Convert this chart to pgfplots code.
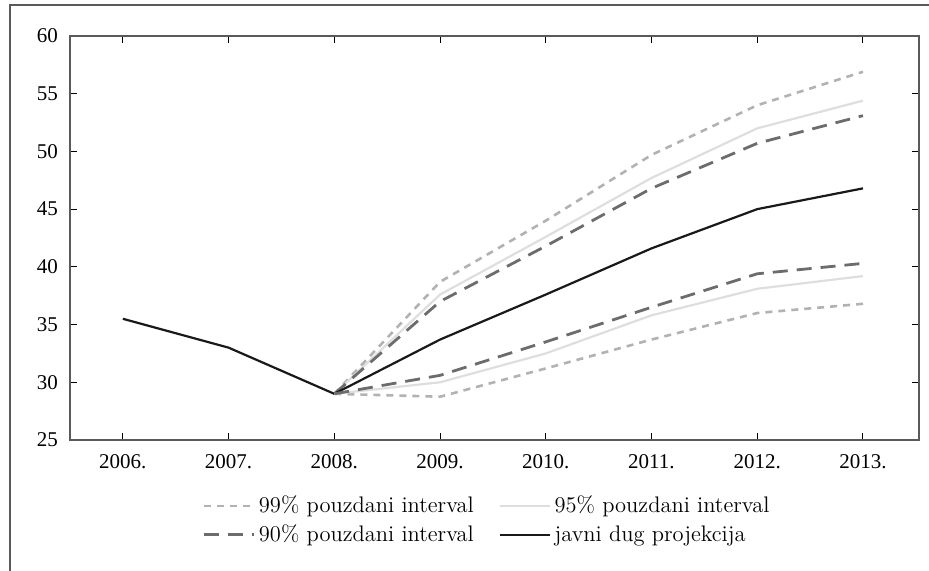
\documentclass[border=0pt]{standalone}
\usepackage{pgfplots}
\pgfplotsset{compat=1.18}
\usepackage{fontspec}
\newfontfamily\timesf{Liberation Serif}
\definecolor{c99}{RGB}{178,178,178}
\definecolor{c95}{RGB}{222,222,222}
\definecolor{c90}{RGB}{108,108,108}
\definecolor{cax}{RGB}{90,90,90}
\begin{document}
\begin{tikzpicture}
\begin{axis}[
  at={(0,0)}, anchor=south west,
  scale only axis, width=424.5pt, height=202pt,
  xmin=2005.5, xmax=2013.53, ymin=25, ymax=60,
  xtick={2006,...,2013},
  xticklabels={2006.,2007.,2008.,2009.,2010.,2011.,2012.,2013.},
  ytick={25,30,...,60},
  tick align=inside, major tick length=3.5pt,
  tick style={black, line width=0.5pt},
  axis line style={cax, line width=0.6pt},
  ticklabel style={font=\timesf\fontsize{10.5}{12}\selectfont},
  /pgf/number format/assume math mode=true,
  yticklabel style={xshift=-2.5pt},
  xticklabel style={yshift=-3.5pt},
  legend columns=2,
  legend cell align=left,
  legend style={at={(axis description cs:0.490,-0.1374)}, anchor=north, draw=none, fill=none,
    inner sep=0pt, nodes={inner sep=0pt, font=\fontsize{11.25}{13}\selectfont},
    column sep=1.8pt, row sep=4.5pt,
    /tikz/every even column/.append style={column sep=12.5pt}},
  legend image code/.code={\draw[#1] (0pt,0pt) -- (25pt,0pt);},
]
\addplot[c99, line width=1.3pt, dash pattern=on 3.5pt off 3pt] coordinates {(2008,29)(2009,38.7)(2010,44.0)(2011,49.7)(2012,54.0)(2013,56.9)};
\addlegendentry{99\% pouzdani interval}
\addplot[c95, line width=1.1pt] coordinates {(2008,29)(2009,37.6)(2010,42.6)(2011,47.7)(2012,52.0)(2013,54.4)};
\addlegendentry{95\% pouzdani interval}
\addplot[c90, line width=1.4pt, dash pattern=on 7.5pt off 4.5pt] coordinates {(2008,29)(2009,37.0)(2010,41.8)(2011,46.8)(2012,50.7)(2013,53.1)};
\addlegendentry{90\% pouzdani interval}
\addplot[black!90, line width=1.1pt] coordinates {(2006,35.5)(2007,33)(2008,29)(2009,33.7)(2010,37.6)(2011,41.6)(2012,45)(2013,46.8)};
\addlegendentry{javni dug projekcija}
\addplot[c99, line width=1.3pt, dash pattern=on 3.5pt off 3pt, forget plot] coordinates {(2008,29)(2009,28.75)(2010,31.2)(2011,33.7)(2012,36.0)(2013,36.8)};
\addplot[c95, line width=1.1pt, forget plot] coordinates {(2008,29)(2009,30.0)(2010,32.5)(2011,35.8)(2012,38.1)(2013,39.2)};
\addplot[c90, line width=1.4pt, dash pattern=on 7.5pt off 4.5pt, forget plot] coordinates {(2008,29)(2009,30.6)(2010,33.5)(2011,36.5)(2012,39.4)(2013,40.3)};
\end{axis}
\draw[cax, line width=0.7pt] (-30pt,-66pt) -- (-30pt,217.5pt) -- (430pt,217.5pt);
\pgfresetboundingbox
\useasboundingbox (-35pt,-65.5pt) rectangle (429.5pt,220pt);
\end{tikzpicture}
\end{document}
